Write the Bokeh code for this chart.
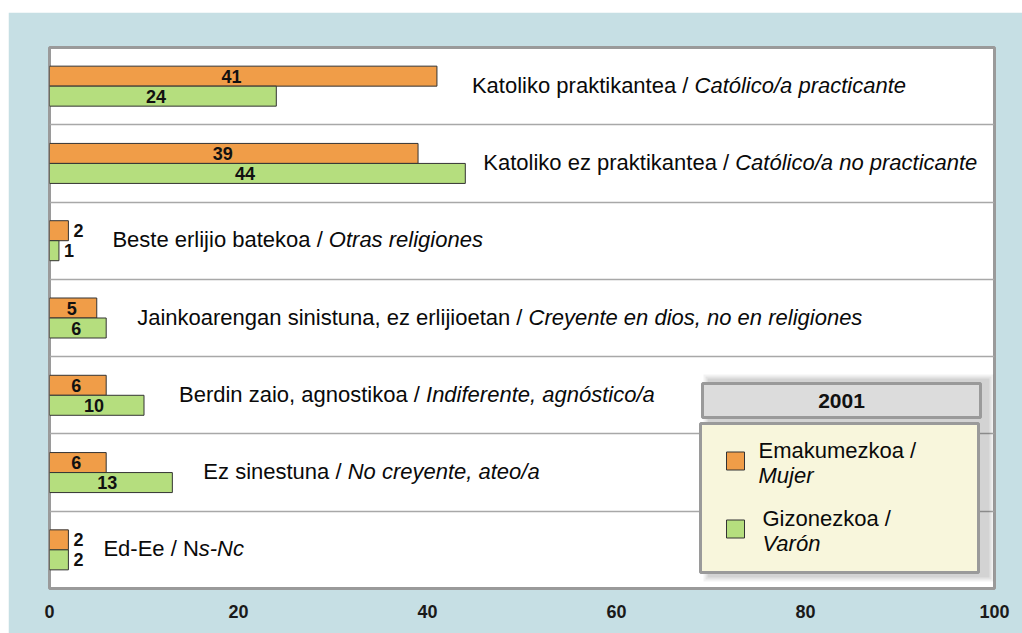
from bokeh.plotting import figure
from bokeh.models import Range1d, FixedTicker, ColumnDataSource
from bokeh.core.properties import value
from bokeh.embed import file_html
from bokeh.resources import INLINE

# ---------------- data ----------------
labels_eu = ["Katoliko praktikantea / ", "Katoliko ez praktikantea / ",
             "Beste erlijio batekoa / ", "Jainkoarengan sinistuna, ez erlijioetan / ",
             "Berdin zaio, agnostikoa / ", "Ez sinestuna / ", "Ed-Ee / N"]
labels_es = ["Católico/a practicante", "Católico/a no practicante", "Otras religiones",
             "Creyente en dios, no en religiones", "Indiferente, agnóstico/a",
             "No creyente, ateo/a", "s-Nc"]
mujer = [41, 39, 2, 5, 6, 6, 2]      # Emakumezkoa / Mujer
varon = [24, 44, 1, 6, 10, 13, 2]    # Gizonezkoa / Varón
x_ticks = [0, 20, 40, 60, 80, 100]
legend_title = "2001"
legend_names = [("Emakumezkoa /", "Mujer"), ("Gizonezkoa /", "Varón")]

# ---------------- style / layout ----------------
BG = "#C6DFE4"
ORANGE = "#F09D48"
GREEN = "#B5DE7E"
FONT = "Liberation Sans"
LABEL_PX = 22
TXT = "#0A0A0A"
label_gaps = [35, 18, 44, 31, 35, 31, 35]   # px between longest bar and label

# Arial / Liberation Sans advance widths (1/1000 em)
W = {' ': 278, ',': 278, '-': 333, '/': 278, 'á': 556, 'ó': 556,
     'A': 667, 'B': 667, 'C': 722, 'D': 722, 'E': 667, 'F': 611, 'G': 778, 'H': 722,
     'I': 278, 'J': 500, 'K': 667, 'L': 556, 'M': 833, 'N': 722, 'O': 778, 'P': 667,
     'Q': 778, 'R': 722, 'S': 667, 'T': 611, 'U': 722, 'V': 667, 'W': 944, 'X': 667,
     'Y': 667, 'Z': 611,
     'a': 556, 'b': 556, 'c': 500, 'd': 556, 'e': 556, 'f': 278, 'g': 556, 'h': 556,
     'i': 222, 'j': 222, 'k': 500, 'l': 222, 'm': 833, 'n': 556, 'o': 556, 'p': 556,
     'q': 556, 'r': 333, 's': 500, 't': 278, 'u': 556, 'v': 500, 'w': 722, 'x': 500,
     'y': 500, 'z': 500}


def text_width(s, size):
    return sum(W.get(c, 556) for c in s) / 1000.0 * size


n = len(mujer)
FRAME_L, FRAME_T, FRAME_R, FRAME_B = 49, 47, 994, 588
px_per_x = (FRAME_R - FRAME_L) / 100.0
px_per_y = (FRAME_B - FRAME_T) / float(n)


def dx(px):
    return (px - FRAME_L) / px_per_x


def dy(py):
    return (FRAME_B - py) / px_per_y


p = figure(width=1014, height=621, x_range=Range1d(0, 100), y_range=Range1d(0, n),
           output_backend="svg", toolbar_location=None, y_axis_location=None,
           min_border_left=41, min_border_right=28, min_border_top=35, min_border_bottom=45)
p.margin = (12, 0, 0, 8)
p.background_fill_color = "white"
p.border_fill_color = BG
p.outline_line_color = "#9A9A9A"
p.outline_line_width = 3

p.xgrid.visible = False
p.ygrid.ticker = FixedTicker(ticks=list(range(1, n)))
p.ygrid.grid_line_color = "#A8A8A8"
p.ygrid.grid_line_width = 1.5

ax = p.xaxis[0]
ax.ticker = FixedTicker(ticks=x_ticks)
ax.axis_line_color = None
ax.major_tick_line_color = None
ax.minor_tick_line_color = None
ax.major_label_text_font = FONT
ax.major_label_text_font_size = "18px"
ax.major_label_text_font_style = "bold"
ax.major_label_text_color = "#1A1A1A"
ax.major_label_standoff = 10

# bars
yc = [n - i - 0.5 for i in range(n)]
bh = 20.0 / px_per_y
src = ColumnDataSource(dict(yo=[y + bh / 2 for y in yc], yg=[y - bh / 2 for y in yc],
                            mujer=mujer, varon=varon))
p.hbar(y="yo", left=0, right="mujer", height=bh, source=src,
       fill_color=ORANGE, line_color="#333333", line_width=1)
p.hbar(y="yg", left=0, right="varon", height=bh, source=src,
       fill_color=GREEN, line_color="#333333", line_width=1)

# value labels
for vals, ys in ((mujer, src.data["yo"]), (varon, src.data["yg"])):
    inx, iny, itx, oux, ouy, otx = [], [], [], [], [], []
    for v, y in zip(vals, ys):
        if v >= 4:
            inx.append(v * 0.47); iny.append(y); itx.append(str(v))
        else:
            oux.append(v); ouy.append(y); otx.append(str(v))
    p.text(x=inx, y=iny, text=itx, text_align="center", text_baseline="middle",
           text_font=value(FONT), text_font_size="18px", text_font_style="bold",
           text_color="#111111")
    p.text(x=oux, y=ouy, text=otx, x_offset=5, text_align="left", text_baseline="middle",
           text_font=value(FONT), text_font_size="18px", text_font_style="bold",
           text_color="#111111")

# category labels (regular Basque part + italic Spanish part)
for i in range(n):
    x0 = max(mujer[i], varon[i])
    y = yc[i] + 1.0 / px_per_y
    p.text(x=[x0], y=[y], text=[labels_eu[i]], x_offset=label_gaps[i],
           text_align="left", text_baseline="middle", text_font=value(FONT),
           text_font_size=f"{LABEL_PX}px", text_color=TXT)
    p.text(x=[x0], y=[y], text=[labels_es[i]],
           x_offset=label_gaps[i] + text_width(labels_eu[i], LABEL_PX),
           text_align="left", text_baseline="middle", text_font=value(FONT),
           text_font_size=f"{LABEL_PX}px", text_font_style="italic", text_color=TXT)

# legend box with soft shadow
for (l, t, r, b), a in (((703, 374, 993, 581), 0.05), ((705, 376, 991, 579), 0.06),
                        ((707, 378, 989, 577), 0.07)):
    p.quad(left=[dx(l)], right=[dx(r)], top=[dy(t)], bottom=[dy(b)],
           fill_color="black", fill_alpha=a, line_color=None)
p.quad(left=[dx(702)], right=[dx(980)], top=[dy(383)], bottom=[dy(417)],
       fill_color="#DCDCDC", line_color="#9A9A9A", line_width=3)
p.text(x=[dx(841)], y=[dy(400)], text=[legend_title], text_align="center",
       text_baseline="middle", text_font=value(FONT), text_font_size="21px",
       text_font_style="bold", text_color="#111111")
p.quad(left=[dx(700)], right=[dx(978)], top=[dy(423)], bottom=[dy(572)],
       fill_color="#F8F6DC", line_color="#9A9A9A", line_width=3)

sw_y = [460.5, 528.5]
txt_x = [758, 762]
txt_y = [(450, 475), (518, 543)]
for k, col in enumerate((ORANGE, GREEN)):
    p.rect(x=[dx(735)], y=[dy(sw_y[k])], width=18, height=18, width_units="screen",
           height_units="screen", fill_color=col, line_color="#333333", line_width=1)
    p.text(x=[dx(txt_x[k])], y=[dy(txt_y[k][0])], text=[legend_names[k][0]],
           text_align="left", text_baseline="middle", text_font=value(FONT),
           text_font_size=f"{LABEL_PX}px", text_color=TXT)
    p.text(x=[dx(txt_x[k])], y=[dy(txt_y[k][1])], text=[legend_names[k][1]],
           text_align="left", text_baseline="middle", text_font=value(FONT),
           text_font_size=f"{LABEL_PX}px", text_font_style="italic", text_color=TXT)

open("out.html", "w").write(file_html(p, INLINE))
